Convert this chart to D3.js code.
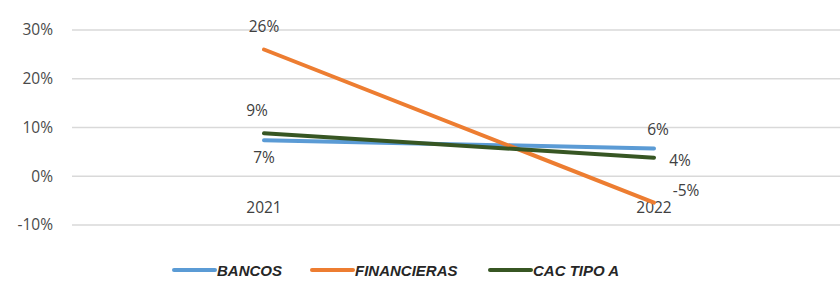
<!DOCTYPE html>
<html>
<head>
<meta charset="utf-8">
<script src="https://cdn.jsdelivr.net/npm/d3@7"></script>
<style>
  body { margin: 0; background: #fff; }
  svg { font-family: "Open Sans", "Liberation Sans", sans-serif; }
</style>
</head>
<body>
<div id="chart"></div>
<script>
const years = ["2021", "2022"];
const bancos = [0.074, 0.057];
const financieras = [0.26, -0.054];
const cacTipoA = [0.088, 0.038];
const yTicks = [-0.1, 0, 0.1, 0.2, 0.3];

const series = [
  { name: "BANCOS", values: bancos, color: "#5b9bd5", labelDx: [0, 4], labelDy: [18, -18] },
  { name: "FINANCIERAS", values: financieras, color: "#ed7d31", labelDx: [0, 32], labelDy: [-23, -12] },
  { name: "CAC TIPO A", values: cacTipoA, color: "#375623", labelDx: [-7, 26], labelDy: [-22, 3] }
];

function drawLineChart(selectorContainer) {
  const width = 840, height = 282;
  const margin = { top: 30, right: 0, bottom: 57, left: 69 };

  const svg = d3.select(selectorContainer).append("svg")
    .attr("width", width)
    .attr("height", height);

  const x = d3.scaleBand().domain(years).range([margin.left, 849]);
  const y = d3.scaleLinear().domain([-0.1, 0.3]).range([225, 30]);
  const locale = d3.formatLocale({ decimal: ".", thousands: ",", grouping: [3], currency: ["", ""], minus: "-" });
  const formatPercent = locale.format(".0%");

  // gridlines
  svg.append("g")
    .selectAll("line")
    .data(yTicks)
    .enter().append("line")
    .attr("x1", 72)
    .attr("x2", width)
    .attr("y1", d => y(d))
    .attr("y2", d => y(d))
    .attr("stroke", "#d9d9d9")
    .attr("stroke-width", 1.3);

  const yAxis = d3.axisLeft(y).tickValues(yTicks).tickFormat(formatPercent).tickSize(0).tickPadding(0);
  const gy = svg.append("g")
    .attr("transform", "translate(53,0)")
    .call(yAxis);
  gy.select(".domain").remove();
  gy.selectAll("text")
    .attr("font-size", 15.5)
    .attr("fill", "#4a4a4a")
    .attr("font-family", "\"Open Sans\", sans-serif");

  // category labels
  svg.selectAll(".xlabel")
    .data(years)
    .enter().append("text")
    .attr("class", "xlabel")
    .attr("x", d => x(d) + x.bandwidth() / 2)
    .attr("y", 213)
    .attr("text-anchor", "middle")
    .attr("font-size", 15.5)
    .attr("fill", "#404040")
    .text(d => d);

  const cx = d => x(d) + x.bandwidth() / 2;
  const line = d3.line()
    .x((d, i) => cx(years[i]))
    .y(d => y(d));

  series.forEach(s => {
    svg.append("path")
      .datum(s.values)
      .attr("d", line)
      .attr("fill", "none")
      .attr("stroke", s.color)
      .attr("stroke-width", 4)
      .attr("stroke-linecap", "round");
  });

  series.forEach(s => {
    svg.selectAll(null)
      .data(s.values)
      .enter().append("text")
      .attr("x", (d, i) => cx(years[i]) + s.labelDx[i])
      .attr("y", (d, i) => y(d) + s.labelDy[i] + 5)
      .attr("text-anchor", "middle")
      .attr("font-size", 15.5)
      .attr("fill", "#404040")
      .text(d => formatPercent(d));
  });

  // legend
  const legendX = [172, 310, 488];
  const legend = svg.append("g").selectAll("g")
    .data(series)
    .enter().append("g")
    .attr("transform", (d, i) => "translate(" + legendX[i] + ",270)");
  legend.append("line")
    .attr("x1", 2).attr("x2", 43)
    .attr("stroke", d => d.color)
    .attr("stroke-width", 4)
    .attr("stroke-linecap", "round");
  legend.append("text")
    .attr("x", 45)
    .attr("y", 5.5)
    .attr("font-size", 15)
    .attr("font-weight", "bold")
    .attr("font-style", "italic")
    .attr("fill", "#262626")
    .attr("font-family", "\"Liberation Sans Narrow\", \"Liberation Sans\", sans-serif")
    .text(d => d.name);
}

window.onload = () => {
  drawLineChart("#chart");
}
</script>
</body>
</html>
